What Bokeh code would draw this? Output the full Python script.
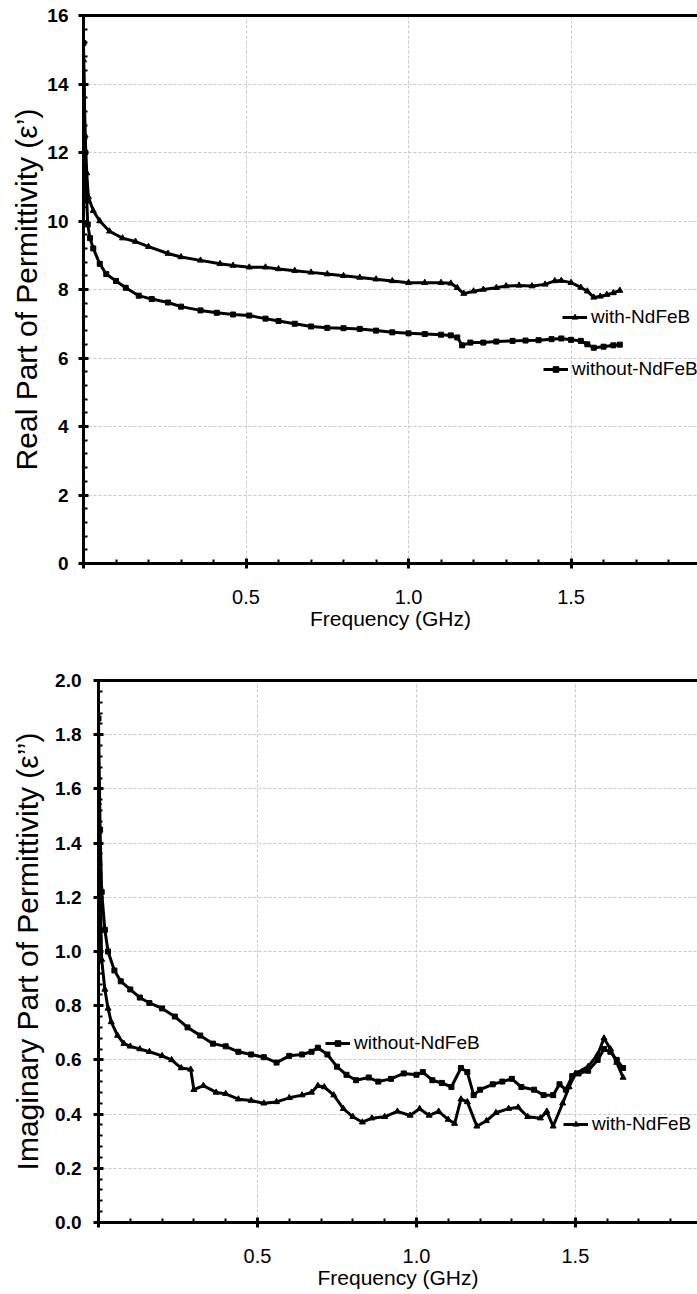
from bokeh.plotting import figure
from bokeh.layouts import column
from bokeh.models import (LinearAxis, FixedTicker, SingleIntervalTicker, Legend, LegendItem,
                          NumeralTickFormatter, Range1d)
from bokeh.embed import file_html
from bokeh.resources import INLINE

# ---------------- data: real part (top) ----------------
real_with_x = [0.0, 0.005, 0.01, 0.015, 0.03, 0.05, 0.08, 0.12, 0.16, 0.2, 0.26, 0.3, 0.36, 0.42,
               0.46, 0.51, 0.56, 0.6, 0.65, 0.7, 0.75, 0.8, 0.85, 0.9, 0.95, 1.0, 1.05, 1.1, 1.13,
               1.15, 1.17, 1.2, 1.23, 1.27, 1.3, 1.34, 1.38, 1.42, 1.45, 1.47, 1.5, 1.53, 1.55,
               1.57, 1.59, 1.61, 1.63, 1.65]
real_with_y = [14.7, 12.5, 11.4, 10.7, 10.3, 10.0, 9.7, 9.5, 9.4, 9.25, 9.05, 8.95, 8.85, 8.75,
               8.7, 8.65, 8.65, 8.6, 8.55, 8.5, 8.45, 8.4, 8.35, 8.3, 8.25, 8.2, 8.2, 8.2, 8.18,
               8.05, 7.88, 7.95, 8.0, 8.05, 8.1, 8.12, 8.1, 8.15, 8.25, 8.26, 8.2, 8.06, 7.95,
               7.77, 7.8, 7.85, 7.9, 7.97]
real_without_x = [0.0, 0.005, 0.01, 0.013, 0.02, 0.03, 0.05, 0.07, 0.1, 0.13, 0.17, 0.21, 0.26,
                  0.3, 0.36, 0.41, 0.46, 0.51, 0.56, 0.6, 0.65, 0.7, 0.75, 0.8, 0.85, 0.9, 0.95,
                  1.0, 1.05, 1.1, 1.13, 1.15, 1.165, 1.19, 1.23, 1.27, 1.32, 1.36, 1.4, 1.44,
                  1.47, 1.5, 1.53, 1.55, 1.57, 1.6, 1.63, 1.65]
real_without_y = [15.2, 12.0, 10.6, 9.9, 9.5, 9.2, 8.75, 8.45, 8.25, 8.05, 7.82, 7.72, 7.62,
                  7.5, 7.39, 7.32, 7.27, 7.24, 7.15, 7.08, 7.0, 6.92, 6.88, 6.87, 6.85, 6.8, 6.75,
                  6.72, 6.7, 6.68, 6.66, 6.6, 6.37, 6.45, 6.45, 6.48, 6.5, 6.51, 6.52, 6.55,
                  6.57, 6.53, 6.5, 6.4, 6.3, 6.33, 6.37, 6.39]

# ---------------- data: imaginary part (bottom) ----------------
imag_without_x = [0.0, 0.005, 0.01, 0.02, 0.03, 0.05, 0.07, 0.1, 0.13, 0.16, 0.2, 0.24, 0.28,
                  0.32, 0.36, 0.4, 0.44, 0.48, 0.52, 0.56, 0.6, 0.64, 0.67, 0.69, 0.72, 0.75,
                  0.78, 0.81, 0.85, 0.88, 0.92, 0.96, 1.0, 1.02, 1.05, 1.08, 1.11, 1.14, 1.16,
                  1.18, 1.2, 1.24, 1.27, 1.3, 1.33, 1.37, 1.4, 1.43, 1.45, 1.47, 1.49, 1.51,
                  1.54, 1.57, 1.59, 1.61, 1.63, 1.65]
imag_without_y = [1.86, 1.45, 1.22, 1.08, 1.0, 0.93, 0.89, 0.86, 0.83, 0.81, 0.79, 0.76, 0.72,
                  0.69, 0.66, 0.65, 0.63, 0.62, 0.61, 0.59, 0.615, 0.62, 0.63, 0.645, 0.62, 0.575,
                  0.545, 0.525, 0.535, 0.52, 0.53, 0.55, 0.545, 0.555, 0.525, 0.515, 0.5, 0.57,
                  0.555, 0.47, 0.49, 0.51, 0.52, 0.53, 0.5, 0.49, 0.47, 0.47, 0.51, 0.49, 0.54,
                  0.55, 0.56, 0.6, 0.64, 0.63, 0.6, 0.57]
imag_with_x = [0.0, 0.005, 0.01, 0.02, 0.03, 0.04, 0.06, 0.08, 0.1, 0.13, 0.16, 0.2, 0.23, 0.26,
               0.29, 0.3, 0.33, 0.37, 0.4, 0.44, 0.48, 0.52, 0.56, 0.6, 0.64, 0.67, 0.69, 0.71,
               0.74, 0.77, 0.8, 0.83, 0.86, 0.9, 0.94, 0.98, 1.01, 1.04, 1.07, 1.1, 1.12, 1.14,
               1.16, 1.19, 1.22, 1.25, 1.29, 1.32, 1.35, 1.39, 1.41, 1.43, 1.46, 1.48, 1.5,
               1.54, 1.57, 1.59, 1.61, 1.63, 1.65]
imag_with_y = [1.55, 1.24, 0.97, 0.86, 0.79, 0.74, 0.69, 0.66, 0.65, 0.64, 0.63, 0.615, 0.6,
               0.57, 0.565, 0.49, 0.505, 0.48, 0.475, 0.455, 0.45, 0.44, 0.445, 0.46, 0.47,
               0.48, 0.505, 0.5, 0.47, 0.42, 0.39, 0.37, 0.385, 0.39, 0.41, 0.395, 0.42, 0.395,
               0.41, 0.38, 0.365, 0.455, 0.445, 0.355, 0.375, 0.405, 0.42, 0.425, 0.39, 0.385,
               0.41, 0.355, 0.44, 0.5, 0.55, 0.575, 0.62, 0.68, 0.64, 0.59, 0.535]

FONT = "Liberation Sans"
W = 697


def style(p, yinterval, left_label, yfmt, lab_std, ylab_std):
    p.frame_align = False
    p.outline_line_color = None
    p.background_fill_color = "white"
    p.border_fill_color = "white"
    xa = p.below[0]
    ya = p.left[0]
    xa.ticker = SingleIntervalTicker(interval=0.5, num_minor_ticks=5)
    xa.formatter = NumeralTickFormatter(format="0.0")
    xa.major_label_overrides = {0: ""}
    xa.axis_label = "Frequency (GHz)"
    ya.ticker = SingleIntervalTicker(interval=yinterval, num_minor_ticks=5)
    ya.axis_label = left_label
    if yfmt:
        ya.formatter = NumeralTickFormatter(format=yfmt)
    for ax in (xa, ya):
        ax.axis_line_width = 3
        ax.major_tick_line_width = 3
        ax.minor_tick_line_width = 2
        ax.major_tick_in = 5
        ax.major_tick_out = 5
        ax.minor_tick_in = 4
        ax.minor_tick_out = 0
        ax.axis_label_text_font = FONT
        ax.major_label_text_font = FONT
        ax.axis_label_text_font_style = "normal"
        ax.axis_line_color = "black"
        ax.major_tick_line_color = "black"
        ax.minor_tick_line_color = "black"
        ax.major_label_text_color = "black"
        ax.axis_label_text_color = "black"
    xa.major_label_text_font_size = "20px"
    xa.axis_label_text_font_size = "21px"
    xa.major_label_standoff = 21
    xa.axis_label_standoff = 0
    ya.major_label_text_font_size = "19px"
    ya.major_label_text_font_style = "bold"
    ya.axis_label_text_font_size = "30px"
    ya.major_label_standoff = lab_std
    ya.axis_label_standoff = ylab_std
    for g in (p.xgrid[0], p.ygrid[0]):
        g.grid_line_color = "#c8c8c8"
        g.grid_line_dash = "3 2"
        g.grid_line_width = 1
    top = LinearAxis(ticker=FixedTicker(ticks=[]), major_label_text_font_size="0px",
                     major_tick_in=0, major_tick_out=0, minor_tick_in=0, minor_tick_out=0,
                     axis_line_width=3, major_label_standoff=0)
    p.add_layout(top, "above")


def series(p, xs, ys, marker, size):
    l = p.line(xs, ys, line_color="black", line_width=3)
    s = p.scatter(xs, ys, marker=marker, size=size, fill_color="black", line_color="black")
    return [l, s]


def add_legend(p, label, rends, loc):
    lg = Legend(items=[LegendItem(label=label, renderers=rends)], location=loc,
                border_line_color=None, background_fill_alpha=0, padding=0, margin=0,
                spacing=0, glyph_width=25, glyph_height=14, label_standoff=4,
                label_text_font=FONT, label_text_font_size="19px", label_text_color="black")
    p.add_layout(lg, "center")


# ---------------- top figure ----------------
p1 = figure(width=W, height=650, x_range=Range1d(0, 1.889), y_range=Range1d(0, 16),
            output_backend="svg", toolbar_location=None,
            min_border_left=83, min_border_right=0, min_border_top=15, min_border_bottom=87)
style(p1, 2, "Real Part of Permittivity (ε’)", None, 10, 1)
r_with = series(p1, real_with_x, real_with_y, "triangle", 6)
r_without = series(p1, real_without_x, real_without_y, "square", 5)
add_legend(p1, "with-NdFeB", r_with, (479, 235))
add_legend(p1, "without-NdFeB", r_without, (460, 183))

# ---------------- bottom figure ----------------
p2 = figure(width=W, height=644, x_range=Range1d(0, 1.884), y_range=Range1d(0, 2.0),
            output_backend="svg", toolbar_location=None,
            min_border_left=98, min_border_right=0, min_border_top=30, min_border_bottom=72)
style(p2, 0.2, "Imaginary Part of Permittivity (ε’’)", "0.0", 12, 8)
i_without = series(p2, imag_without_x, imag_without_y, "square", 5)
i_with = series(p2, imag_with_x, imag_with_y, "triangle", 6)
add_legend(p2, "without-NdFeB", i_without, (227, 168))
add_legend(p2, "with-NdFeB", i_with, (465, 87))

layout = column(p1, p2, spacing=0)
open("out.html", "w").write(file_html(layout, INLINE))
